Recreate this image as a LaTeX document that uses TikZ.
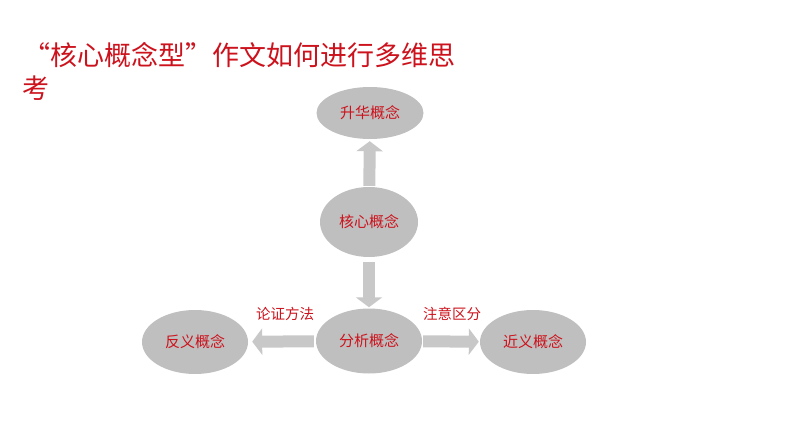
\documentclass[tikz,border=0pt]{standalone}
\usepackage{fontspec}
\newfontfamily\cjk{Noto Sans CJK SC}
\usetikzlibrary{arrows.meta,shapes.geometric}
\definecolor{hong}{RGB}{204,18,28}
\definecolor{hui}{RGB}{191,191,191}
\definecolor{jiantou}{RGB}{200,200,200}
\begin{document}
\begin{tikzpicture}[x=1pt,y=-1pt,
  tuoyuan/.style={ellipse,fill=hui,text=hong,inner sep=0pt,minimum width=106pt,minimum height=64pt,font=\cjk\fontsize{15}{15}\selectfont},
  biaozhu/.style={text=hong,inner sep=0pt,font=\cjk\fontsize{14.5}{15}\selectfont},
  kuoda/.style={draw=jiantou,line width=12pt,-{Triangle[width=26pt,length=10pt]}}]
\useasboundingbox(0,0)rectangle(794,447);
\node[anchor=west,text=hong,inner sep=0pt,font=\cjk\fontsize{27}{32}\selectfont](biaoti)at(23,55){“核心概念型”作文如何进行多维思};
\node[anchor=west,text=hong,inner sep=0pt,font=\cjk\fontsize{27}{32}\selectfont](kao)at(22,88){考};
\node[tuoyuan,minimum width=107pt,minimum height=52pt](shenghua)at(370,113){升华概念};
\node[tuoyuan,minimum width=98pt,minimum height=70pt](hexin)at(369,222){核心概念};
\node[tuoyuan,minimum height=65pt](fenxi)at(369,341){分析概念};
\node[tuoyuan](fanyi)at(195,342){反义概念};
\node[tuoyuan](jinyi)at(533,342){近义概念};
\node[biaozhu](lunzheng)at(285,314){论证方法};
\node[biaozhu](zhuyi)at(452,314){注意区分};
\draw[kuoda,shorten <=1pt,shorten >=2pt](hexin)--(shenghua);
\draw[kuoda,shorten <=5pt,shorten >=1pt](hexin)--(fenxi);
\draw[kuoda,shorten <=2pt,shorten >=4pt](fenxi)--(fanyi);
\draw[kuoda,shorten <=1pt,shorten >=1pt](fenxi)--(jinyi);
\end{tikzpicture}
\end{document}
